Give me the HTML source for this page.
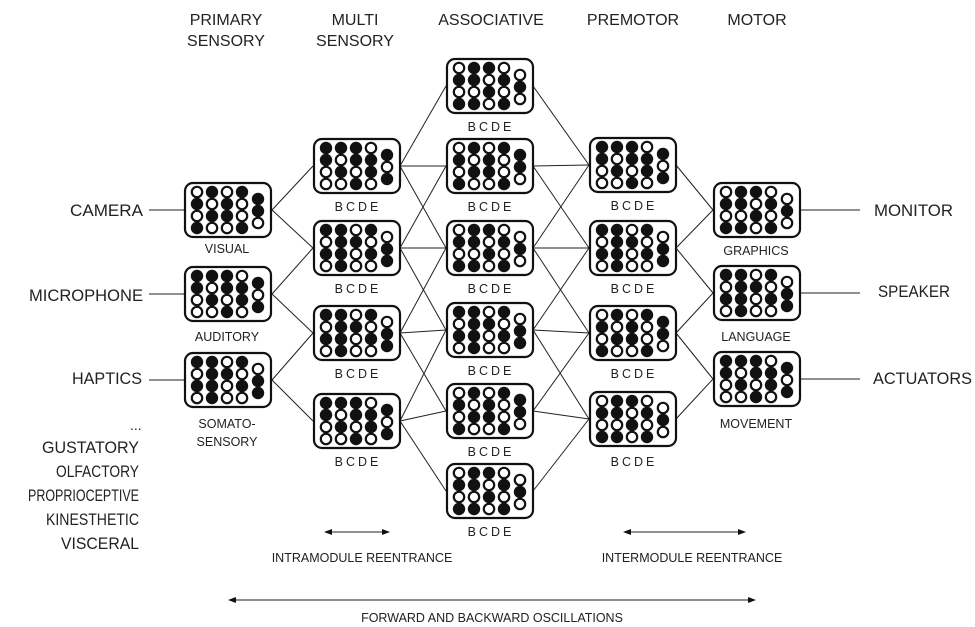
<!DOCTYPE html>
<html><head><meta charset="utf-8"><style>
html,body{margin:0;padding:0;background:#fff;}
svg{display:block;font-family:"Liberation Sans",sans-serif;}
</style></head><body>
<svg width="975" height="627" viewBox="0 0 975 627" xmlns="http://www.w3.org/2000/svg">
<defs>
<g id="c0"><circle r="5.2" fill="#fff" stroke="#111" stroke-width="2.2"/></g>
<g id="c1"><circle r="6.2" fill="#111"/></g>
<g id="box"><rect x="1" y="1" width="86" height="54" rx="8" fill="#fff" stroke="#111" stroke-width="2.2"/></g>
<g id="m1"><use href="#box"/>
<use href="#c0" x="13" y="10"/><use href="#c1" x="28" y="10"/><use href="#c0" x="43" y="10"/><use href="#c1" x="58" y="10"/>
<use href="#c1" x="13" y="22"/><use href="#c0" x="28" y="22"/><use href="#c1" x="43" y="22"/><use href="#c0" x="58" y="22"/>
<use href="#c0" x="13" y="34"/><use href="#c1" x="28" y="34"/><use href="#c1" x="43" y="34"/><use href="#c0" x="58" y="34"/>
<use href="#c1" x="13" y="46"/><use href="#c0" x="28" y="46"/><use href="#c0" x="43" y="46"/><use href="#c1" x="58" y="46"/>
<use href="#c1" x="74" y="17"/><use href="#c1" x="74" y="29"/><use href="#c0" x="74" y="41"/></g>
<g id="m2"><use href="#box"/>
<use href="#c1" x="13" y="10"/><use href="#c1" x="28" y="10"/><use href="#c1" x="43" y="10"/><use href="#c0" x="58" y="10"/>
<use href="#c1" x="13" y="22"/><use href="#c0" x="28" y="22"/><use href="#c1" x="43" y="22"/><use href="#c1" x="58" y="22"/>
<use href="#c0" x="13" y="34"/><use href="#c1" x="28" y="34"/><use href="#c0" x="43" y="34"/><use href="#c1" x="58" y="34"/>
<use href="#c0" x="13" y="46"/><use href="#c0" x="28" y="46"/><use href="#c1" x="43" y="46"/><use href="#c0" x="58" y="46"/>
<use href="#c1" x="74" y="17"/><use href="#c0" x="74" y="29"/><use href="#c1" x="74" y="41"/></g>
<g id="m3"><use href="#box"/>
<use href="#c0" x="13" y="10"/><use href="#c1" x="28" y="10"/><use href="#c1" x="43" y="10"/><use href="#c0" x="58" y="10"/>
<use href="#c1" x="13" y="22"/><use href="#c1" x="28" y="22"/><use href="#c0" x="43" y="22"/><use href="#c1" x="58" y="22"/>
<use href="#c0" x="13" y="34"/><use href="#c0" x="28" y="34"/><use href="#c1" x="43" y="34"/><use href="#c0" x="58" y="34"/>
<use href="#c1" x="13" y="46"/><use href="#c1" x="28" y="46"/><use href="#c0" x="43" y="46"/><use href="#c1" x="58" y="46"/>
<use href="#c0" x="74" y="17"/><use href="#c1" x="74" y="29"/><use href="#c0" x="74" y="41"/></g>
<g id="m4"><use href="#box"/>
<use href="#c1" x="13" y="10"/><use href="#c1" x="28" y="10"/><use href="#c0" x="43" y="10"/><use href="#c1" x="58" y="10"/>
<use href="#c0" x="13" y="22"/><use href="#c1" x="28" y="22"/><use href="#c1" x="43" y="22"/><use href="#c0" x="58" y="22"/>
<use href="#c1" x="13" y="34"/><use href="#c1" x="28" y="34"/><use href="#c0" x="43" y="34"/><use href="#c1" x="58" y="34"/>
<use href="#c0" x="13" y="46"/><use href="#c1" x="28" y="46"/><use href="#c0" x="43" y="46"/><use href="#c0" x="58" y="46"/>
<use href="#c0" x="74" y="17"/><use href="#c1" x="74" y="29"/><use href="#c1" x="74" y="41"/></g>
<marker id="ar" markerWidth="8" markerHeight="6" refX="7" refY="3" orient="auto-start-reverse" markerUnits="userSpaceOnUse"><path d="M0,0 L8,3 L0,6 z" fill="#111"/></marker>
</defs>

<g stroke="#222" stroke-width="1" fill="none">
<line x1="272" y1="210" x2="313" y2="166"/><line x1="272" y1="210" x2="313" y2="248"/>
<line x1="272" y1="294" x2="313" y2="248"/><line x1="272" y1="294" x2="313" y2="333"/>
<line x1="272" y1="380" x2="313" y2="333"/><line x1="272" y1="380" x2="313" y2="421"/>
<line x1="400" y1="166" x2="446" y2="86"/><line x1="400" y1="166" x2="446" y2="166"/><line x1="400" y1="166" x2="446" y2="248"/>
<line x1="400" y1="248" x2="446" y2="166"/><line x1="400" y1="248" x2="446" y2="248"/><line x1="400" y1="248" x2="446" y2="330"/>
<line x1="400" y1="333" x2="446" y2="248"/><line x1="400" y1="333" x2="446" y2="330"/><line x1="400" y1="333" x2="446" y2="411"/>
<line x1="400" y1="421" x2="446" y2="330"/><line x1="400" y1="421" x2="446" y2="411"/><line x1="400" y1="421" x2="446" y2="491"/>
<line x1="533" y1="86" x2="589" y2="165"/><line x1="533" y1="166" x2="589" y2="165"/><line x1="533" y1="248" x2="589" y2="165"/>
<line x1="533" y1="166" x2="589" y2="248"/><line x1="533" y1="248" x2="589" y2="248"/><line x1="533" y1="330" x2="589" y2="248"/>
<line x1="533" y1="248" x2="589" y2="333"/><line x1="533" y1="330" x2="589" y2="333"/><line x1="533" y1="411" x2="589" y2="333"/>
<line x1="533" y1="330" x2="589" y2="419"/><line x1="533" y1="411" x2="589" y2="419"/><line x1="533" y1="491" x2="589" y2="419"/>
<line x1="676" y1="165" x2="713" y2="210"/><line x1="676" y1="248" x2="713" y2="210"/>
<line x1="676" y1="248" x2="713" y2="293"/><line x1="676" y1="333" x2="713" y2="293"/>
<line x1="676" y1="333" x2="713" y2="379"/><line x1="676" y1="419" x2="713" y2="379"/>
<line x1="149" y1="210" x2="184" y2="210"/><line x1="149" y1="294" x2="184" y2="294"/><line x1="149" y1="380" x2="184" y2="380"/>
<line x1="800" y1="210" x2="860" y2="210"/><line x1="800" y1="293" x2="860" y2="293"/><line x1="800" y1="379" x2="860" y2="379"/>
<line x1="325" y1="532" x2="389" y2="532" marker-start="url(#ar)" marker-end="url(#ar)"/>
<line x1="624" y1="532" x2="745" y2="532" marker-start="url(#ar)" marker-end="url(#ar)"/>
<line x1="229" y1="600" x2="755" y2="600" marker-start="url(#ar)" marker-end="url(#ar)"/>
</g>

<use href="#m1" x="184" y="182"/><use href="#m2" x="184" y="266"/><use href="#m4" x="184" y="352"/>
<use href="#m2" x="313" y="138"/><use href="#m4" x="313" y="220"/><use href="#m4" x="313" y="305"/><use href="#m2" x="313" y="393"/>
<use href="#m3" x="446" y="58"/><use href="#m1" x="446" y="138"/><use href="#m3" x="446" y="220"/><use href="#m4" x="446" y="302"/><use href="#m1" x="446" y="383"/><use href="#m3" x="446" y="463"/>
<use href="#m2" x="589" y="137"/><use href="#m4" x="589" y="220"/><use href="#m1" x="589" y="305"/><use href="#m3" x="589" y="391"/>
<use href="#m3" x="713" y="182"/><use href="#m4" x="713" y="265"/><use href="#m2" x="713" y="351"/>

<g fill="#222" font-size="12.5" text-anchor="middle" letter-spacing="3">
<text x="358" y="211">BCDE</text><text x="358" y="293">BCDE</text><text x="358" y="378">BCDE</text><text x="358" y="466">BCDE</text>
<text x="491" y="131">BCDE</text><text x="491" y="211">BCDE</text><text x="491" y="293">BCDE</text><text x="491" y="375">BCDE</text><text x="491" y="456">BCDE</text><text x="491" y="536">BCDE</text>
<text x="634" y="210">BCDE</text><text x="634" y="293">BCDE</text><text x="634" y="378">BCDE</text><text x="634" y="466">BCDE</text>
</g>
<g fill="#222" font-size="12.5" text-anchor="middle">
<text x="227" y="253">VISUAL</text><text x="227" y="341">AUDITORY</text><text x="227" y="428">SOMATO-</text><text x="227" y="446">SENSORY</text>
<text x="756" y="255">GRAPHICS</text><text x="756" y="341">LANGUAGE</text><text x="756" y="428">MOVEMENT</text>
<text x="362" y="562">INTRAMODULE REENTRANCE</text><text x="692" y="562">INTERMODULE REENTRANCE</text>
<text x="492" y="622">FORWARD AND BACKWARD OSCILLATIONS</text>
</g>
<g fill="#222" font-size="16" text-anchor="middle">
<text x="226" y="25">PRIMARY</text><text x="226" y="46">SENSORY</text>
<text x="355" y="25">MULTI</text><text x="355" y="46">SENSORY</text>
<text x="491" y="25">ASSOCIATIVE</text><text x="633" y="25">PREMOTOR</text><text x="757" y="25">MOTOR</text>
</g>
<g fill="#222" font-size="17" lengthAdjust="spacingAndGlyphs">
<text x="70" y="216" textLength="73" lengthAdjust="spacingAndGlyphs">CAMERA</text>
<text x="29" y="301" textLength="114" lengthAdjust="spacingAndGlyphs">MICROPHONE</text>
<text x="72" y="384" textLength="70" lengthAdjust="spacingAndGlyphs">HAPTICS</text>
<text x="130" y="430" font-size="14">...</text>
<text x="42" y="453" textLength="97" lengthAdjust="spacingAndGlyphs">GUSTATORY</text>
<text x="56" y="477" textLength="83" lengthAdjust="spacingAndGlyphs">OLFACTORY</text>
<text x="28" y="501" textLength="111" lengthAdjust="spacingAndGlyphs">PROPRIOCEPTIVE</text>
<text x="46" y="525" textLength="93" lengthAdjust="spacingAndGlyphs">KINESTHETIC</text>
<text x="61" y="549" textLength="78" lengthAdjust="spacingAndGlyphs">VISCERAL</text>
<text x="874" y="216" textLength="79" lengthAdjust="spacingAndGlyphs">MONITOR</text>
<text x="878" y="297" textLength="72" lengthAdjust="spacingAndGlyphs">SPEAKER</text>
<text x="873" y="384" textLength="99" lengthAdjust="spacingAndGlyphs">ACTUATORS</text>
</g>
</svg>
</body></html>
